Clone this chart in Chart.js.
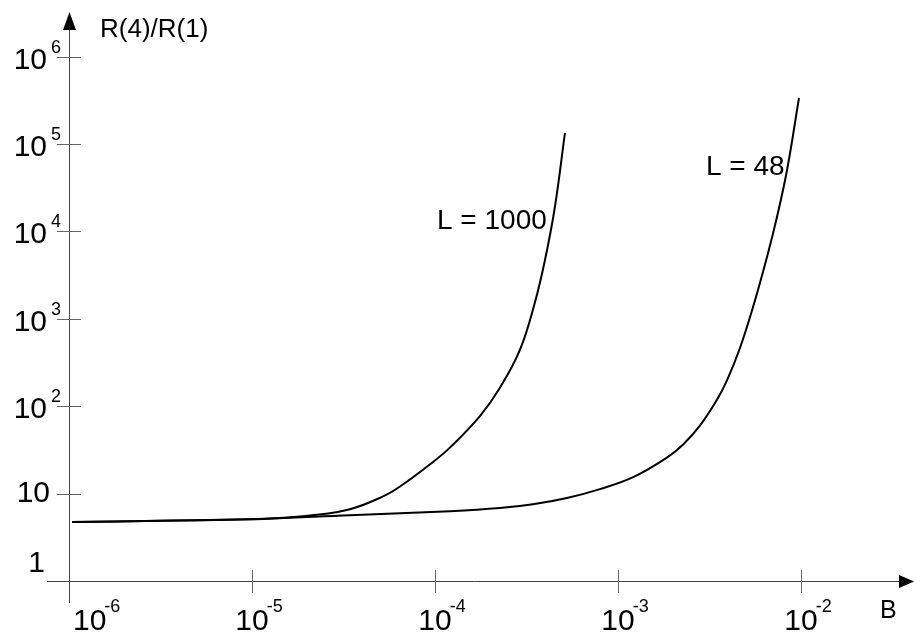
<!DOCTYPE html>
<html>
<head>
<meta charset="utf-8">
<script src="https://cdn.jsdelivr.net/npm/chart.js@4/dist/chart.umd.min.js"></script>
<style>
  html, body { margin: 0; padding: 0; background: #fff; }
  #wrap { width: 914px; height: 635px; }
</style>
</head>
<body>
<div id="wrap"><canvas id="chart" width="914" height="635"></canvas></div>
<script>
// curve L = 1000 (B, R(4)/R(1))
const bL1000 = [1.04e-6, 3.14e-6, 9.75e-6, 1.42e-5, 2.07e-5, 3.43e-5, 5.2e-5, 6.44e-5, 9.75e-5, 1.21e-4, 1.76e-4, 2.26e-4, 2.91e-4, 3.52e-4, 3.99e-4, 4.52e-4, 5.13e-4];
const rL1000 = [4.73, 4.89, 5.08, 5.27, 5.6, 6.63, 9.29, 12.06, 23.0, 33.8, 77.2, 161.6, 440, 1557, 4708, 19020, 1.34e5];

// curve L = 48
const bL48 = [1.04e-6, 3.14e-6, 9.75e-6, 3.43e-5, 1.21e-4, 2.26e-4, 3.43e-4, 5.26e-4, 7.97e-4, 1.21e-3, 1.85e-3, 2.27e-3, 2.81e-3, 3.48e-3, 3.94e-3, 4.64e-3, 5.47e-3, 6.52e-3, 7.39e-3, 8.39e-3, 9.75e-3];
const rL48 = [4.73, 4.89, 5.08, 5.65, 6.29, 6.83, 7.55, 8.91, 11.26, 15.4, 25.8, 36.5, 60.3, 119, 197, 463, 1365, 5095, 14620, 50420, 3.36e5];

// decade ticks (exponents)
const xTickExp = [-6, -5, -4, -3, -2];
const yTickExp = [0, 1, 2, 3, 4, 5, 6];

const curveLabels = ['L = 1000', 'L = 48'];
const xTitle = 'B';
const yTitle = 'R(4)/R(1)';

const FONT = "'Liberation Sans', Arial, sans-serif";

const toPoints = (xs, ys) => xs.map((v, i) => ({ x: v, y: ys[i] }));

// axes, arrows, ticks and all text drawn by hand
const axesPlugin = {
  id: 'axes',
  beforeDatasetsDraw(chart) {
    const { ctx, scales: { x, y } } = chart;
    const x0 = Math.round(x.getPixelForValue(1e-6));
    const y0 = Math.round(y.getPixelForValue(1));
    ctx.save();
    ctx.strokeStyle = '#444';
    ctx.lineWidth = 1;
    ctx.beginPath();
    ctx.moveTo(x0 + 0.5, y0 + 22);
    ctx.lineTo(x0 + 0.5, 26);
    ctx.moveTo(x0 - 22, y0 + 0.5);
    ctx.lineTo(902, y0 + 0.5);
    ctx.stroke();

    // tick marks
    ctx.strokeStyle = '#666';
    ctx.beginPath();
    yTickExp.forEach(k => {
      if (k === 0) return;
      const py = Math.round(y.getPixelForValue(Math.pow(10, k))) + 0.5;
      ctx.moveTo(x0 - 12, py);
      ctx.lineTo(x0 + 12, py);
    });
    xTickExp.forEach(k => {
      if (k === -6) return;
      const px = Math.round(x.getPixelForValue(Math.pow(10, k))) + 0.5;
      ctx.moveTo(px, y0 - 11);
      ctx.lineTo(px, y0 + 12);
    });
    ctx.stroke();

    // arrow heads
    ctx.fillStyle = '#000';
    ctx.beginPath();
    ctx.moveTo(x0 + 0.5, 12);
    ctx.lineTo(x0 - 6, 30);
    ctx.lineTo(x0 + 7, 30);
    ctx.closePath();
    ctx.fill();
    ctx.beginPath();
    ctx.moveTo(914, y0 + 0.5);
    ctx.lineTo(899, y0 - 6);
    ctx.lineTo(899, y0 + 7);
    ctx.closePath();
    ctx.fill();
    ctx.restore();
  },
  afterDraw(chart) {
    const { ctx, scales: { x, y } } = chart;
    const x0 = x.getPixelForValue(1e-6);
    const y0 = y.getPixelForValue(1);
    ctx.save();
    ctx.fillStyle = '#000';
    ctx.textBaseline = 'alphabetic';

    // y tick labels
    yTickExp.forEach(k => {
      const py = y.getPixelForValue(Math.pow(10, k));
      ctx.font = '30px ' + FONT;
      ctx.textAlign = 'right';
      if (k === 0) {
        ctx.fillText('1', 45, y0 - 9);
      } else if (k === 1) {
        ctx.fillText('10', 50, py + 8);
      } else {
        ctx.fillText('10', 47, py + 12);
        ctx.font = '18px ' + FONT;
        ctx.textAlign = 'left';
        ctx.fillText(String(k), 51, py - 4);
      }
    });

    // x tick labels
    xTickExp.forEach(k => {
      const px = x.getPixelForValue(Math.pow(10, k));
      ctx.font = '30px ' + FONT;
      ctx.textAlign = 'left';
      const w = ctx.measureText('10').width;
      const left = k === -6 ? px + 4 : px - w / 2;
      ctx.fillText('10', left, y0 + 49);
      ctx.font = '18px ' + FONT;
      ctx.fillText(String(k), left + w - 2, y0 + 31);
    });

    // axis titles
    ctx.font = '25px ' + FONT;
    ctx.textAlign = 'left';
    ctx.fillText(xTitle, 880, y0 + 37);
    ctx.font = '26px ' + FONT;
    ctx.fillText(yTitle, x0 + 31, 37);

    // curve labels
    ctx.font = '28px ' + FONT;
    ctx.fillText(curveLabels[0], 437, 229);
    ctx.fillText(curveLabels[1], 706, 175);
    ctx.restore();
  }
};

const ctx = document.getElementById('chart').getContext('2d');
const chart = new Chart(ctx, {
  type: 'scatter',
  data: {
    datasets: [
      {
        label: curveLabels[0],
        data: toPoints(bL1000, rL1000),
        showLine: true,
        borderColor: '#000',
        borderWidth: 2,
        pointRadius: 0,
        tension: 0.4
      },
      {
        label: curveLabels[1],
        data: toPoints(bL48, rL48),
        showLine: true,
        borderColor: '#000',
        borderWidth: 2,
        pointRadius: 0,
        tension: 0.4
      }
    ]
  },
  options: {
    responsive: false,
    animation: false,
    layout: {
      padding: { left: 69, right: 2, top: 12, bottom: 54 }
    },
    plugins: {
      legend: { display: false },
      tooltip: { enabled: false }
    },
    scales: {
      x: {
        type: 'logarithmic',
        display: false,
        min: 1e-6,
        max: Math.pow(10, -6 + 843 / 183)
      },
      y: {
        type: 'logarithmic',
        display: false,
        min: 1,
        max: Math.pow(10, 569 / 87.4)
      }
    }
  },
  plugins: [axesPlugin]
});
</script>
</body>
</html>
